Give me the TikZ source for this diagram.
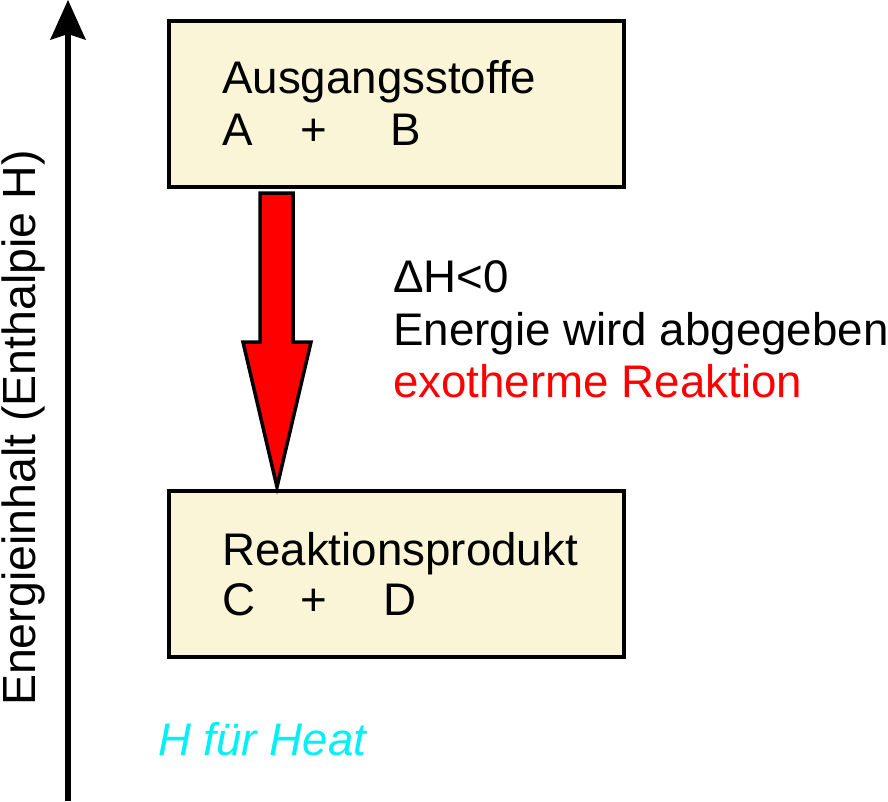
\documentclass[tikz,border=0pt]{standalone}
\usepackage{fontspec}
\setmainfont{Liberation Sans}
\begin{document}
\begin{tikzpicture}[x=1pt,y=-1pt,
  box/.style={draw=black,line width=4pt,fill=boxfill,minimum width=455pt,minimum height=166pt,inner sep=0pt,anchor=north west},
  txt/.style={anchor=base west,inner sep=0pt,font=\fontsize{45.7}{54}\selectfont}]
\definecolor{boxfill}{HTML}{F9F5D6}
\definecolor{heatcyan}{HTML}{00F0F8}
\useasboundingbox (0,0) rectangle (888,801);
% axis
\draw[line width=6pt] (68,801) -- (68,30);
\fill (68,0) -- (86,40) -- (68,34) -- (50,40) -- cycle;
\node[txt,anchor=base,rotate=90,font=\fontsize{46.5}{54}\selectfont] (axl) at (35,428) {Energieinhalt (Enthalpie H)};
% boxes
\node[box] (top) at (167,19) {};
\node[box] (bot) at (167,489) {};
% red arrow
\draw[line width=3.5pt,fill=red,line join=miter]
  (260,193) -- (293,193) -- (293,342) -- (311,342) -- (277,487) -- (243,342) -- (260,342) -- cycle;
% texts
\node[txt] (t1) at (222,93) {Ausgangsstoffe};
\node[txt] (t2) at (222,145) {A};
\node[txt] (t3) at (300,145) {+};
\node[txt] (t4) at (390,145) {B};
\node[txt] (b1) at (222,565) {Reaktionsprodukt};
\node[txt] (b2) at (222,615) {C};
\node[txt] (b3) at (300,615) {+};
\node[txt] (b4) at (383,615) {D};
\node[txt] (r1) at (393,292) {ΔH<0};
\node[txt] (r2) at (393,345) {Energie wird abgegeben};
\node[txt,text=red] (r3) at (393,397) {exotherme Reaktion};
\node[txt,text=heatcyan,font=\fontsize{45.7}{54}\selectfont\itshape] (h) at (158,755) {H für Heat};
\end{tikzpicture}
\end{document}
